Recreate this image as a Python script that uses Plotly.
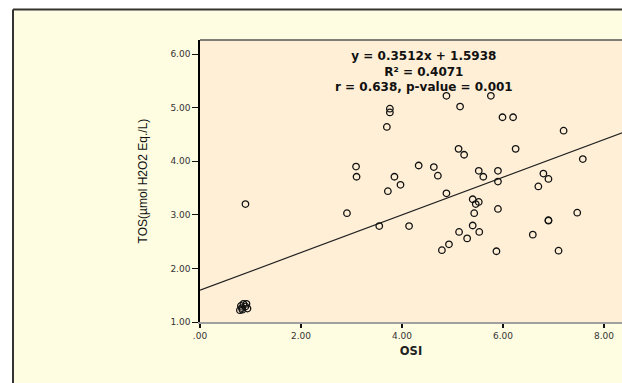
import plotly.graph_objects as go

# ---- data ----
osi = [0.90, 0.79, 0.83, 0.81, 0.86, 0.92, 0.94, 0.84, 0.90,
       2.91, 3.09, 3.10, 3.55, 3.70, 3.76, 3.76, 3.72, 3.85, 3.97,
       4.14, 4.33, 4.63, 4.71, 4.88, 4.88, 4.79, 4.93, 5.15, 5.12,
       5.23, 5.13, 5.29, 5.40, 5.46, 5.52, 5.43, 5.40, 5.53, 5.52,
       5.61, 5.76, 5.90, 5.90, 5.90, 5.87, 5.99, 6.20, 6.25, 6.59,
       6.70, 6.80, 6.90, 6.90, 6.90, 7.10, 7.20, 7.47, 7.58]
tos = [3.20, 1.22, 1.26, 1.30, 1.34, 1.34, 1.25, 1.23, 1.29,
       3.03, 3.90, 3.71, 2.79, 4.64, 4.98, 4.91, 3.44, 3.71, 3.56,
       2.79, 3.92, 3.89, 3.73, 5.22, 3.40, 2.34, 2.45, 5.02, 4.23,
       4.12, 2.68, 2.56, 3.29, 3.20, 3.24, 3.03, 2.80, 2.68, 3.82,
       3.71, 5.22, 3.82, 3.62, 3.11, 2.32, 4.82, 4.82, 4.23, 2.63,
       3.53, 3.77, 3.67, 2.89, 2.90, 2.33, 4.57, 3.04, 4.04]

slope = 0.3512
intercept = 1.5938
fit_x = [0.0, 8.6]
fit_y = [slope * v + intercept for v in fit_x]

x_ticks = [0, 2, 4, 6, 8]
x_ticktext = [".00", "2.00", "4.00", "6.00", "8.00"]
y_ticks = [1, 2, 3, 4, 5, 6]
y_ticktext = ["1.00", "2.00", "3.00", "4.00", "5.00", "6.00"]

eq_lines = ["y = 0.3512x + 1.5938", "R² = 0.4071", "r = 0.638, p-value = 0.001"]

# ---- layout geometry (pixels) ----
W, H = 622, 383
L, R, T, B = 200, 0, 40, 61
pw, ph = W - L - R, H - T - B


def px_x(p):
    return (p - L) / pw


def px_y(p):
    return (H - B - p) / ph


fig = go.Figure()
fig.add_trace(go.Scatter(
    x=fit_x, y=fit_y, mode="lines",
    line=dict(color="#222222", width=1.2),
    hoverinfo="skip", showlegend=False))
fig.add_trace(go.Scatter(
    x=osi, y=tos, mode="markers",
    marker=dict(symbol="circle", size=6.5, color="rgba(0,0,0,0)",
                line=dict(color="#111111", width=1.3)),
    showlegend=False))

shapes = [
    # white outside of the outer frame
    dict(type="rect", xref="paper", yref="paper", x0=px_x(-2), x1=px_x(12),
         y0=px_y(H + 5), y1=px_y(-5), fillcolor="white", line=dict(width=0)),
    dict(type="rect", xref="paper", yref="paper", x0=px_x(-2), x1=px_x(W + 5),
         y0=px_y(8.5), y1=px_y(-5), fillcolor="white", line=dict(width=0)),
    # outer frame lines
    dict(type="line", xref="paper", yref="paper", x0=px_x(13), x1=px_x(13),
         y0=px_y(H + 5), y1=px_y(9.5), line=dict(color="#333333", width=2)),
    dict(type="line", xref="paper", yref="paper", x0=px_x(13), x1=px_x(W + 5),
         y0=px_y(9.5), y1=px_y(9.5), line=dict(color="#333333", width=2)),
    # plot area top border
    dict(type="line", xref="paper", yref="paper", x0=0, x1=1.02,
         y0=1, y1=1, line=dict(color="#555555", width=1.5)),
]

annotations = [dict(
    text="<br>".join("<b>%s</b>" % t for t in eq_lines),
    xref="paper", yref="paper", x=px_x(424), y=px_y(71),
    xanchor="center", yanchor="middle", align="center", showarrow=False,
    font=dict(family="DejaVu Sans", size=12, color="#111111"))]

fig.update_layout(
    width=W, height=H,
    margin=dict(l=L, r=R, t=T, b=B, pad=0),
    paper_bgcolor="#FFFDE1",
    plot_bgcolor="#FEEFD6",
    shapes=shapes,
    annotations=annotations,
    showlegend=False,
    xaxis=dict(
        range=[0, (W - L - R) / 50.5], showgrid=False, zeroline=False,
        tickmode="array", tickvals=x_ticks, ticktext=x_ticktext,
        ticks="outside", ticklen=4, tickwidth=1.5, tickcolor="#111111",
        showline=True, linecolor="#A0A0A0", linewidth=2,
        tickfont=dict(family="DejaVu Sans", size=9, color="#333333"),
        title=dict(text="<b>OSI</b>", standoff=7,
                   font=dict(family="DejaVu Sans", size=11.5, color="#222222")),
        fixedrange=True),
    yaxis=dict(
        range=[1, 1 + (H - B - T) / 53.6], showgrid=False, zeroline=False,
        tickmode="array", tickvals=y_ticks, ticktext=y_ticktext,
        ticks="outside", ticklen=6, tickwidth=1, tickcolor="#111111",
        showline=True, linecolor="#000000", linewidth=1.5,
        tickfont=dict(family="DejaVu Sans", size=9, color="#333333"),
        title=dict(text="TOS(µmol H2O2 Eq./L)", standoff=20,
                   font=dict(family="Liberation Sans", size=12, color="#111111")),
        fixedrange=True),
)

fig.write_html(
    "out.html",
    config={"displayModeBar": False},
    post_script="document.body.style.margin='0';"
                "document.body.style.overflow='hidden';")
